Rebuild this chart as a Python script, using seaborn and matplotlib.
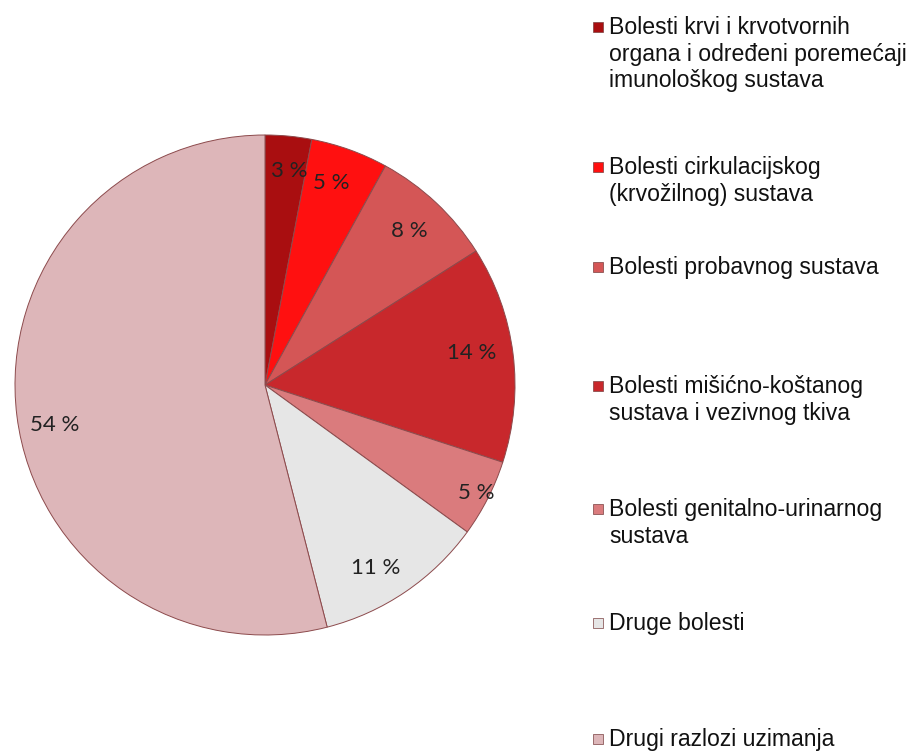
import matplotlib
matplotlib.use("Agg")
import matplotlib.pyplot as plt
import seaborn as sns
import numpy as np
from matplotlib.patches import Rectangle

sns.set_theme(style="white")
plt.rcParams['font.family'] = ['Liberation Sans', 'DejaVu Sans']

categories = [
    "Bolesti krvi i krvotvornih\norgana i određeni poremećaji\nimunološkog sustava",
    "Bolesti cirkulacijskog\n(krvožilnog) sustava",
    "Bolesti probavnog sustava",
    "Bolesti mišićno-koštanog\nsustava i vezivnog tkiva",
    "Bolesti genitalno-urinarnog\nsustava",
    "Druge bolesti",
    "Drugi razlozi uzimanja",
]
values = [3, 5, 8, 14, 5, 11, 54]
pct_labels = ["3 %", "5 %", "8 %", "14 %", "5 %", "11 %", "54 %"]
colors = ["#A90E10", "#FF1010", "#D45656", "#C8282C", "#DA7B7D", "#E6E6E6", "#DDB6B9"]
label_dist = [0.86, 0.85, 0.845, 0.835, 0.95, 0.855, 0.855]
label_shift = [-1.0, 1.5, 0.0, 1.5, 0.0, -3.0, 3.5]

W, H = 913, 753
fig = plt.figure(figsize=(W / 100, H / 100), dpi=100)
fig.patch.set_facecolor("white")

cx, cy, r = 265, 385, 250
ax = fig.add_axes([(cx - r) / W, (H - cy - r) / H, 2 * r / W, 2 * r / H])
wedges, _ = ax.pie(values, colors=colors, startangle=90, counterclock=False,
                   radius=1.0,
                   wedgeprops=dict(edgecolor="#8C4A4C", linewidth=0.7))
ax.set_xlim(-1, 1)
ax.set_ylim(-1, 1)
ax.set_aspect("equal")
ax.axis("off")

for w, lab, d, s in zip(wedges, pct_labels, label_dist, label_shift):
    ang = np.deg2rad((w.theta1 + w.theta2) / 2 + s)
    ax.text(d * np.cos(ang), d * np.sin(ang), lab, ha="center", va="center",
            fontsize=16, family=["Lato", "DejaVu Sans"], color="#222222")

# legend entries (first-line baselines in pixels)
baselines = [33, 173, 273, 392, 515, 629, 745]
for lab, col, b in zip(categories, colors, baselines):
    fig.text(609 / W, 1 - (b - 17) / H, lab, ha="left", va="top",
             fontsize=16.6, color="#111111", linespacing=1.2)
    fig.patches.append(Rectangle((593 / W, 1 - (b - 1) / H), 10 / W, 10 / H,
                                 transform=fig.transFigure, facecolor=col,
                                 edgecolor="#7A4040", linewidth=0.5))

fig.savefig("out.png", dpi=100, facecolor="white")
